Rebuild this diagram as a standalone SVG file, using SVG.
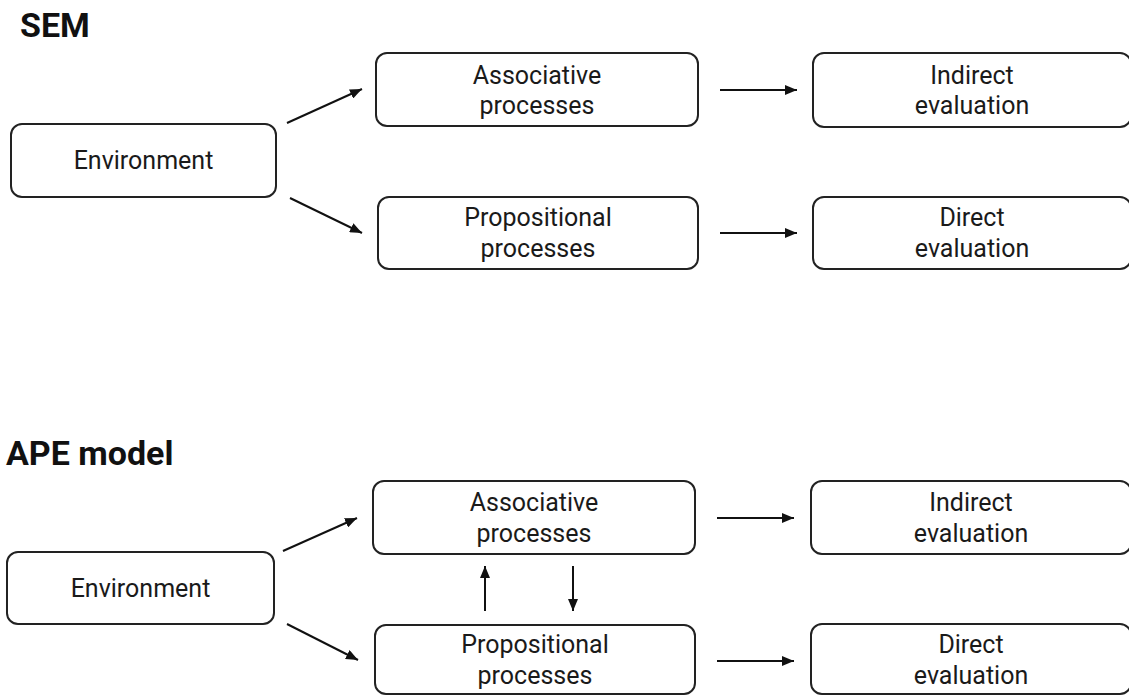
<svg xmlns="http://www.w3.org/2000/svg" width="1129" height="695" viewBox="0 0 1129 695">
<style>
.box{fill:#fff;stroke:#222;stroke-width:2}
.t{font-family:Roboto,"Liberation Sans",sans-serif;font-size:25px;fill:#1a1a1a;text-anchor:middle}
.h{font-family:Roboto,"Liberation Sans",sans-serif;font-size:34px;font-weight:bold;fill:#111}
.c{stroke:#111;stroke-width:2;fill:none;marker-end:url(#ah)}
</style>
<defs>
<marker id="ah" markerUnits="userSpaceOnUse" markerWidth="13" markerHeight="10" refX="12" refY="5" orient="auto">
<path d="M0,0 L12,5 L0,10 z" fill="#111"/>
</marker>
</defs>
<rect width="1129" height="695" fill="#fff"/>
<text class="h" x="20" y="37">SEM</text>
<text class="h" x="6" y="465">APE model</text>
<g id="sem-env"><rect class="box" x="11" y="124" width="265" height="73" rx="11"/><text class="t" x="143.5" y="169">Environment</text></g>
<g id="sem-assoc"><rect class="box" x="376" y="53" width="322" height="73" rx="11"/><text class="t" x="537" y="84">Associative</text><text class="t" x="537" y="114">processes</text></g>
<g id="sem-indirect"><rect class="box" x="813" y="53" width="318" height="74" rx="11"/><text class="t" x="972" y="84">Indirect</text><text class="t" x="972" y="114">evaluation</text></g>
<g id="sem-prop"><rect class="box" x="378" y="197" width="320" height="72" rx="11"/><text class="t" x="538" y="226">Propositional</text><text class="t" x="538" y="257">processes</text></g>
<g id="sem-direct"><rect class="box" x="813" y="197" width="318" height="72" rx="11"/><text class="t" x="972" y="226">Direct</text><text class="t" x="972" y="257">evaluation</text></g>
<g id="ape-env"><rect class="box" x="7" y="552" width="267" height="72" rx="11"/><text class="t" x="140.5" y="597">Environment</text></g>
<g id="ape-assoc"><rect class="box" x="373" y="481" width="322" height="73" rx="11"/><text class="t" x="534" y="511">Associative</text><text class="t" x="534" y="542">processes</text></g>
<g id="ape-indirect"><rect class="box" x="811" y="481" width="320" height="73" rx="11"/><text class="t" x="971" y="511">Indirect</text><text class="t" x="971" y="542">evaluation</text></g>
<g id="ape-prop"><rect class="box" x="375" y="625" width="320" height="69" rx="11"/><text class="t" x="535" y="653">Propositional</text><text class="t" x="535" y="684">processes</text></g>
<g id="ape-direct"><rect class="box" x="811" y="624" width="320" height="70" rx="11"/><text class="t" x="971" y="653">Direct</text><text class="t" x="971" y="684">evaluation</text></g>
<g id="connectors">
<line class="c" x1="287" y1="123" x2="362" y2="89"/>
<line class="c" x1="290" y1="198" x2="362" y2="233"/>
<line class="c" x1="720" y1="90" x2="797" y2="90"/>
<line class="c" x1="720" y1="233" x2="797" y2="233"/>
<line class="c" x1="283" y1="551" x2="357" y2="518"/>
<line class="c" x1="287" y1="624" x2="358" y2="660"/>
<line class="c" x1="717" y1="518" x2="794" y2="518"/>
<line class="c" x1="717" y1="661" x2="794" y2="661"/>
<line class="c" x1="485" y1="611" x2="485" y2="566"/>
<line class="c" x1="573" y1="566" x2="573" y2="611"/>
</g>
</svg>
